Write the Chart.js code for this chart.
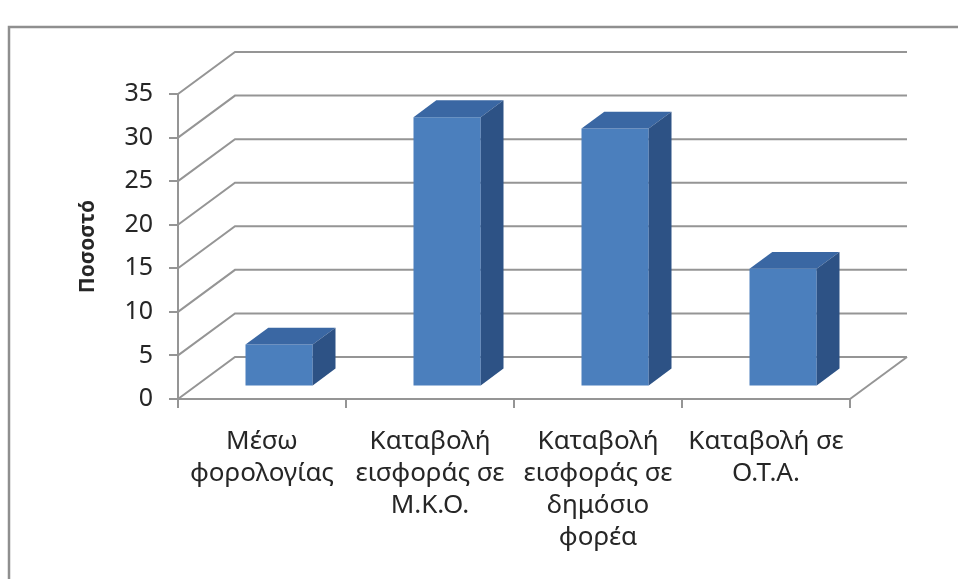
<!DOCTYPE html>
<html>
<head>
<meta charset="utf-8">
<script src="https://cdn.jsdelivr.net/npm/chart.js@4"></script>
<style>
  body { margin: 0; background: #fff; }
  canvas { display: block; }
</style>
</head>
<body>
<canvas id="g_pososto" width="958" height="579"></canvas>
<script>
// categories (multi-line labels) and percentages
const categories = [
    ['Μέσω', 'φορολογίας'],
    ['Καταβολή', 'εισφοράς σε', 'Μ.Κ.Ο.'],
    ['Καταβολή', 'εισφοράς σε', 'δημόσιο', 'φορέα'],
    ['Καταβολή σε', 'Ο.Τ.Α.']
];
const values = [4.8, 30.9, 29.6, 13.5];
const yMin = 0;
const yMax = 35;
const yStep = 5;
const yTitle = 'Ποσοστό';

Chart.defaults.font.family = "'Noto Sans', 'DejaVu Sans', sans-serif";
Chart.defaults.color = '#262626';

const gridColor = '#959595';
// depth of the 3d box (back wall offset) and bar depth range
const DX = 57, DY = -42;
const barFront = 0.3, barBack = 0.7;

const box3d = {
    id: 'box3d',
    beforeDraw(chart) {
        // outer frame, only top and left edges visible
        const ctx = chart.ctx;
        ctx.save();
        ctx.strokeStyle = '#8f8f8f';
        ctx.lineWidth = 2.5;
        ctx.beginPath();
        ctx.moveTo(9, 700);
        ctx.lineTo(9, 27);
        ctx.lineTo(1100, 27);
        ctx.stroke();
        ctx.restore();
    },
    beforeDatasetsDraw(chart) {
        const ctx = chart.ctx;
        const a = chart.chartArea;
        const y = chart.scales.y;
        ctx.save();
        ctx.strokeStyle = gridColor;
        ctx.lineWidth = 2;
        // side wall diagonals + back wall lines
        y.ticks.forEach(t => {
            const py = y.getPixelForValue(t.value);
            ctx.beginPath();
            ctx.moveTo(a.left, py);
            ctx.lineTo(a.left + DX, py + DY);
            ctx.lineTo(a.right + DX, py + DY);
            ctx.stroke();
        });
        // floor right edge
        ctx.beginPath();
        ctx.moveTo(a.right, a.bottom);
        ctx.lineTo(a.right + DX, a.bottom + DY);
        ctx.stroke();
        ctx.restore();
        // bars' front faces sit a bit inside the box
        ctx.save();
        ctx.translate(DX * barFront, DY * barFront);
    },
    afterDatasetsDraw(chart) {
        const ctx = chart.ctx;
        ctx.restore();
        const ox = DX * barFront, oy = DY * barFront;
        const dx = DX * (barBack - barFront), dy = DY * (barBack - barFront);
        const meta = chart.getDatasetMeta(0);
        meta.data.forEach(bar => {
            const l = bar.x - bar.width / 2 + ox;
            const r = bar.x + bar.width / 2 + ox;
            const t = bar.y + oy;
            const b = bar.base + oy;
            // top
            ctx.fillStyle = '#3a67a3';
            ctx.beginPath();
            ctx.moveTo(l, t);
            ctx.lineTo(l + dx, t + dy);
            ctx.lineTo(r + dx, t + dy);
            ctx.lineTo(r, t);
            ctx.closePath();
            ctx.fill();
            // right side
            ctx.fillStyle = '#2d5285';
            ctx.beginPath();
            ctx.moveTo(r, t);
            ctx.lineTo(r + dx, t + dy);
            ctx.lineTo(r + dx, b + dy);
            ctx.lineTo(r, b);
            ctx.closePath();
            ctx.fill();
        });
    }
};

let context = document.getElementById('g_pososto').getContext('2d');
let config = {
    type: 'bar',
    data: {
        labels: categories,
        datasets: [{
            data: values,
            backgroundColor: '#4b7fbd',
            borderWidth: 0,
            categoryPercentage: 1,
            barPercentage: 0.4
        }]
    },
    options: {
        responsive: false,
        animation: false,
        layout: { padding: { left: 66, right: 108, top: 94, bottom: 0 } },
        plugins: {
            legend: { display: false },
            tooltip: { enabled: false }
        },
        scales: {
            x: {
                afterFit: s => { s.height = 180; },
                grid: {
                    offset: true,
                    drawOnChartArea: false,
                    tickLength: 9,
                    color: gridColor,
                    lineWidth: 2
                },
                border: { color: gridColor, width: 2 },
                ticks: {
                    font: { size: 26, lineHeight: 1.23 },
                    padding: 18,
                    maxRotation: 0,
                    autoSkip: false
                }
            },
            y: {
                min: yMin,
                max: yMax,
                afterFit: s => { s.width = 112; },
                grid: {
                    drawOnChartArea: false,
                    tickLength: 9,
                    color: gridColor,
                    lineWidth: 2
                },
                border: { color: gridColor, width: 2 },
                ticks: {
                    stepSize: yStep,
                    font: { size: 25 },
                    padding: 16
                },
                title: {
                    display: true,
                    text: yTitle,
                    font: { size: 21, weight: 'bold' },
                    padding: { top: 9, bottom: 0 }
                }
            }
        }
    },
    plugins: [box3d]
};
let gPososto = new Chart(context, config);
</script>
</body>
</html>
